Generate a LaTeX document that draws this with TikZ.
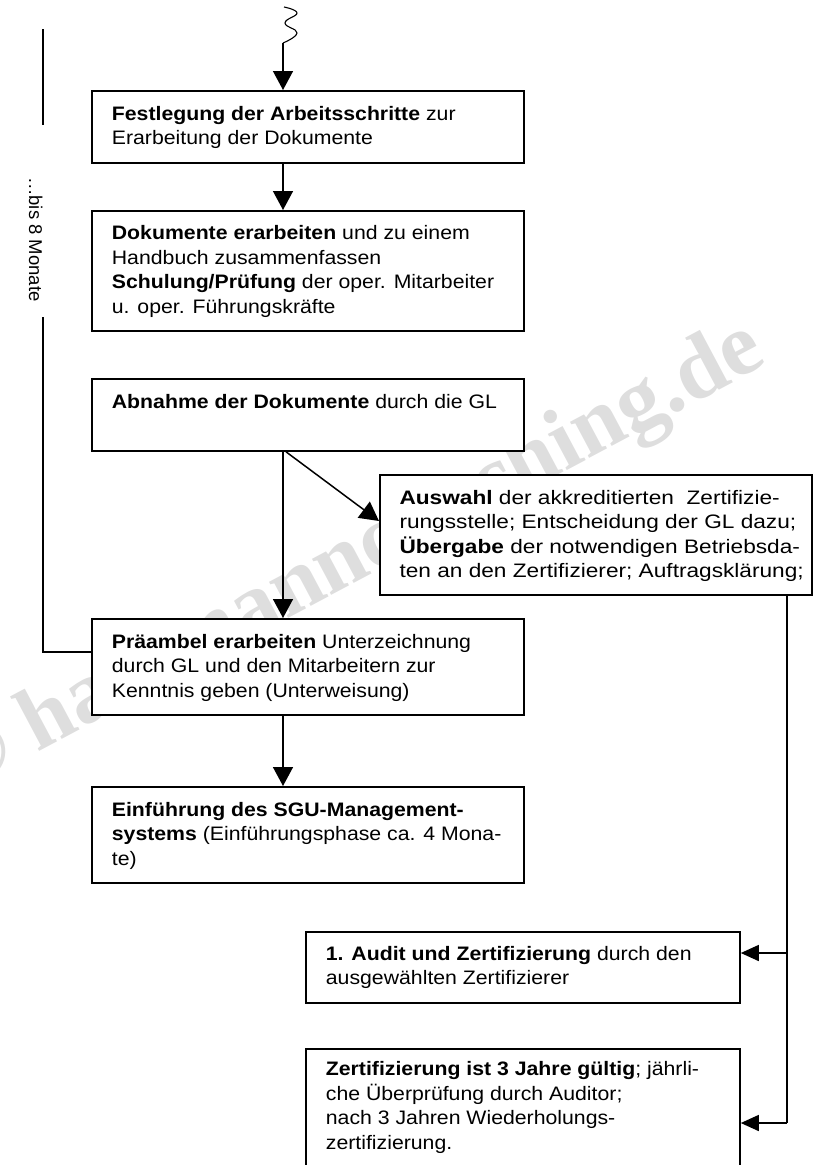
\documentclass[tikz,border=0pt]{standalone}
\usepackage{fontspec}
\usepackage{graphicx}
\setmainfont{Liberation Sans}[FakeStretch=1.09]
\newfontfamily\plainsans{Liberation Sans}
\newfontfamily\wmfont{Liberation Serif}
\usetikzlibrary{arrows.meta,calc}
\begin{document}
\begin{tikzpicture}[x=1pt,y=-1pt,
  box/.style={draw, line width=1.8pt, fill=white, anchor=north west, inner sep=0pt},
  txt/.style={anchor=base west, inner sep=0pt, font=\fontsize{19.5}{24.5}\selectfont},
  con/.style={line width=1.5pt},
  arr/.style={con, -{Triangle[length=19pt,width=20pt]}},
  arrl/.style={con, -{Triangle[length=18pt,width=16pt]}},
  wm/.style={rotate=28, text=black!13, inner sep=0pt, font=\wmfont\bfseries\fontsize{89}{89}\selectfont}
]
\useasboundingbox (0,0) rectangle (814,1165);
% watermark
\node[wm] (wmark) at (354,560) {© hartmanncoaching.de};
% boxes
\node[box, minimum width=432pt, minimum height=72pt]  (b1) at (91,90) {};
\node[box, minimum width=432pt, minimum height=120pt] (b2) at (91,210) {};
\node[box, minimum width=432pt, minimum height=72pt]  (b3) at (91,378) {};
\node[box, minimum width=432pt, minimum height=120pt] (b4) at (379,474) {};
\node[box, minimum width=432pt, minimum height=96pt]  (b5) at (91,618) {};
\node[box, minimum width=432pt, minimum height=96pt]  (b6) at (91,786) {};
\node[box, minimum width=434pt, minimum height=71pt]  (b7) at (305,931) {};
\node[box, minimum width=434pt, minimum height=124pt] (b8) at (305,1048) {};
% texts
\node[txt] (t1) at ($(b1.north west)+(20.7,30)$) {\begin{tabular}[t]{@{}l@{}}\textbf{Festlegung der Arbeitsschritte} zur\\Erarbeitung der Dokumente\end{tabular}};
\node[txt] (t2) at ($(b2.north west)+(20.7,29.5)$) {\begin{tabular}[t]{@{}l@{}}\textbf{Dokumente erarbeiten} und zu einem\\Handbuch zusammenfassen\\\textbf{Schulung/Prüfung} der oper. Mitarbeiter\\u. oper. Führungskräfte\end{tabular}};
\node[txt] (t3) at ($(b3.north west)+(20.7,30)$) {\begin{tabular}[t]{@{}l@{}}\textbf{Abnahme der Dokumente} durch die GL\end{tabular}};
\node[txt] (t4) at ($(b4.north west)+(20.3,30)$) {\scalebox{1.066}[1]{\begin{tabular}[t]{@{}l@{}}\textbf{Auswahl} der akkreditierten\ \ Zertifizie-\\rungsstelle; Entscheidung der GL dazu;\\\textbf{Übergabe} der notwendigen Betriebsda-\\ten an den Zertifizierer; Auftragsklärung;\end{tabular}}};
\node[txt] (t5) at ($(b5.north west)+(20.7,30)$) {\begin{tabular}[t]{@{}l@{}}\textbf{Präambel erarbeiten} Unterzeichnung\\durch GL und den Mitarbeitern zur\\Kenntnis geben (Unterweisung)\end{tabular}};
\node[txt] (t6) at ($(b6.north west)+(20.7,30)$) {\begin{tabular}[t]{@{}l@{}}\textbf{Einführung des SGU-Management-}\\\textbf{systems} (Einführungsphase ca. 4 Mona-\\te)\end{tabular}};
\node[txt] (t7) at ($(b7.north west)+(20.7,29)$) {\begin{tabular}[t]{@{}l@{}}\textbf{1. Audit und Zertifizierung} durch den\\ausgewählten Zertifizierer\end{tabular}};
\node[txt] (t8) at ($(b8.north west)+(20.7,27.5)$) {\begin{tabular}[t]{@{}l@{}}\textbf{Zertifizierung ist 3 Jahre gültig}; jährli-\\che Überprüfung durch Auditor;\\nach 3 Jahren Wiederholungs-\\zertifizierung.\end{tabular}};
% helper coordinates
\coordinate (ax) at (283,0);
\coordinate (dx) at (286,0);
\coordinate (dg) at (379,521);
\coordinate (sq0) at (284,7);
\coordinate (sq) at (283,43);
\coordinate (r1) at (787,953);
\coordinate (r2) at (787,1123);
\coordinate (l1) at (43,29);
\coordinate (l2) at (43,125);
\coordinate (l3) at (43,317);
\coordinate (l4) at (43,652);
% squiggle and arrows
\draw[line width=1.1pt] plot[smooth, tension=0.8] coordinates {(sq0) (297,13) (285,23) (297,33) (sq)};
\draw[arr] (sq) -- (b1.north -| ax);
\draw[arr] (b1.south -| ax) -- (b2.north -| ax);
\draw[arr] (b3.south -| ax) -- (b5.north -| ax);
\draw[arr] (b3.south -| dx) -- (b4.west |- dg);
\draw[arr] (b5.south -| ax) -- (b6.north -| ax);
\draw[con] (b4.south -| r1) -- (r2);
\draw[arrl] (r1) -- (r1 -| b7.east);
\draw[arrl] (r2) -- (r2 -| b8.east);
% left duration bracket
\draw[con] (l1) -- (l2);
\node[rotate=-90, anchor=base west, inner sep=0pt, font=\plainsans\fontsize{18.5}{22}\selectfont] (dur) at (29,177) {…bis 8 Monate};
\draw[con] (l3) -- (l4) -- (b5.west |- l4);
\end{tikzpicture}
\end{document}
